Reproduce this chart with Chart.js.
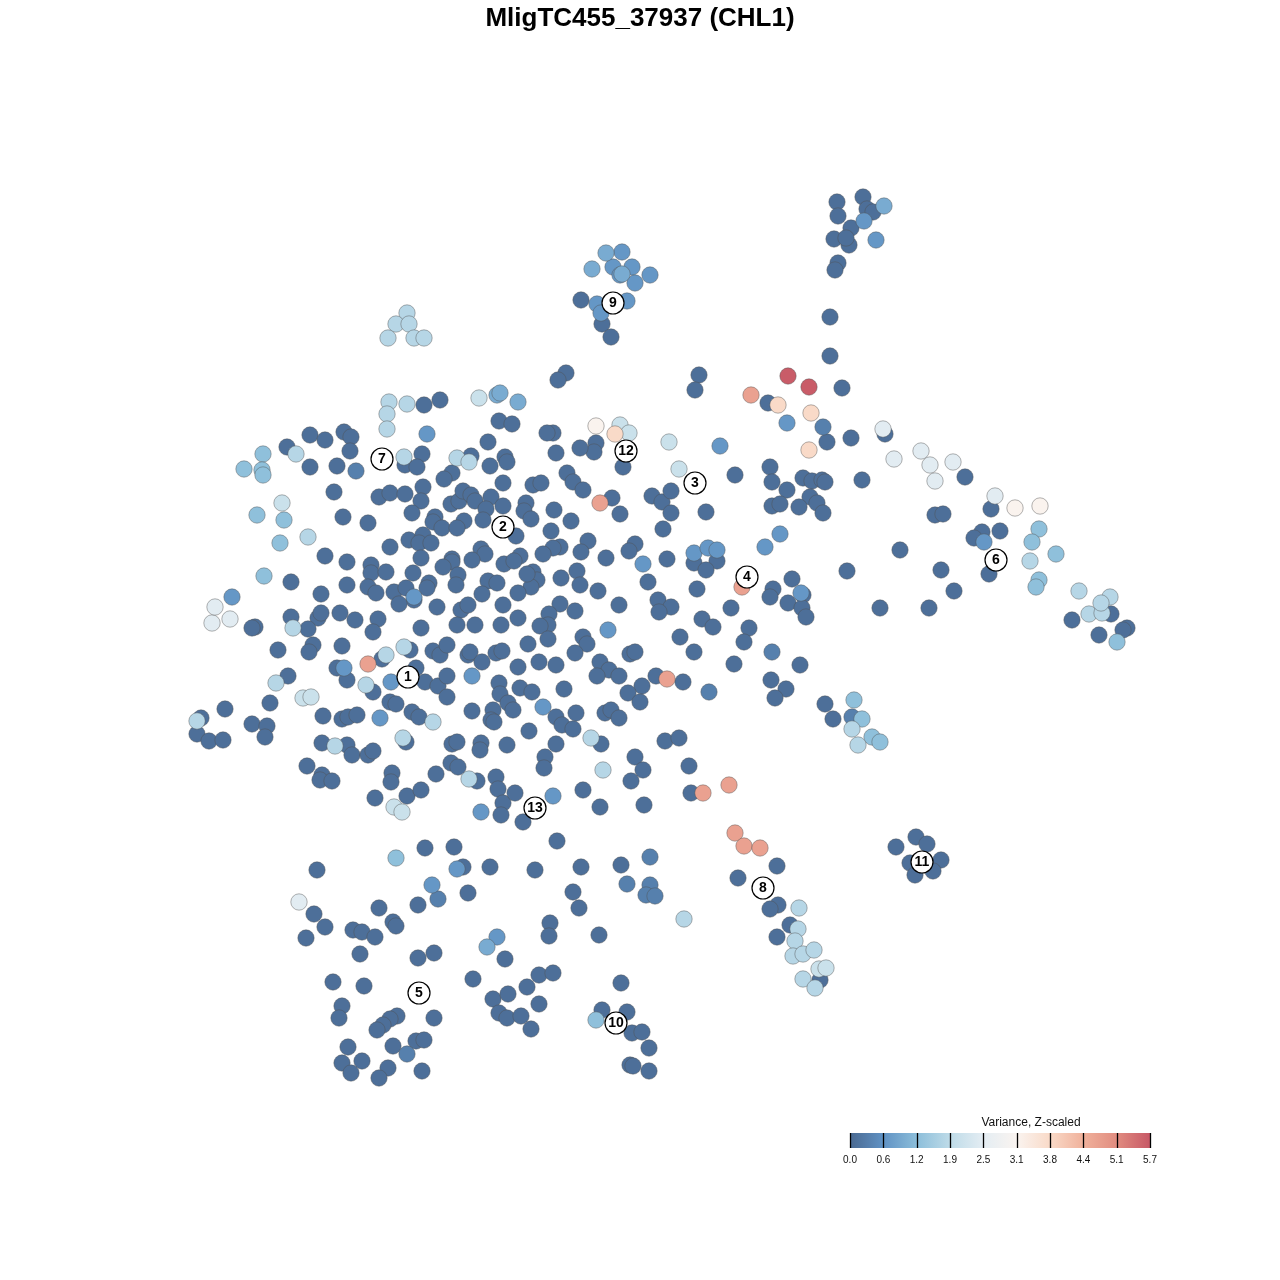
<!DOCTYPE html>
<html><head><meta charset="utf-8">
<script src="https://cdn.jsdelivr.net/npm/chart.js@4"></script>
<style>html,body{margin:0;padding:0;background:#fff}canvas{display:block}</style>
</head><body>
<canvas id="c" width="1280" height="1280"></canvas>
<script>
// tSNE embedding coordinates (tSNE_1, tSNE_2) grouped by Z-scaled variance level
const levelValues = [0.1, 0.35, 0.7, 1.0, 1.3, 1.8, 2.1, 2.5, 3.2, 3.8, 4.7, 5.65];
const cellsLevel0 = [
[837,202],[863,197],[838,216],[867,209],[873,212],[851,228],[834,239],[849,245],[846,238],[838,263],[835,270],[830,317],[830,356],[842,388],[699,375],[695,390],
[581,300],[602,324],[611,337],[566,373],[558,380],[424,405],[440,400],
[499,421],[310,435],[325,440],[344,432],[351,437],[287,447],[350,451],[488,442],[422,454],[405,465],[417,467],[471,456],[490,466],[505,457],[310,467],[337,466],[452,473],[444,479],[503,483],[334,492],[379,497],[390,493],[405,494],[423,487],[421,501],[451,504],[459,501],[463,491],[471,495],[475,501],[491,497],[486,509],[503,506],[343,517],[368,523],[412,513],[435,517],[433,522],[442,528],[464,521],[457,528],[483,520],[390,547],[409,540],[423,535],[419,543],[431,543],[481,549],[485,554],[472,560],[452,559],[452,562],[443,567],[504,564],[325,556],[347,562],[371,565],[371,573],[386,572],[421,558],[413,573],[458,575],[456,585],[488,581],[497,583],[291,582],[347,585],[368,587],[376,593],[394,592],[406,588],[429,583],[427,588],[414,600],[399,604],[321,594],[482,594],[503,605],[461,610],[468,605],[437,607],[291,617],[318,618],[321,613],[340,613],[355,620],[378,619],[255,627],[252,628],[308,629],[421,628],[457,625],[475,625],[501,625],
[768,403],[827,442],[512,424],[553,433],[547,433],[596,443],[594,452],[580,448],[556,453],[623,467],[507,462],[567,473],[573,482],[583,490],[735,475],[770,467],[772,482],[787,490],[803,478],[812,481],[822,480],[825,482],[810,497],[817,503],[823,513],[772,506],[780,504],[799,507],[533,485],[541,483],[612,498],[620,514],[652,496],[662,502],[671,491],[671,513],[706,512],[663,529],[526,503],[524,511],[531,519],[554,510],[571,521],[516,536],[551,531],[588,541],[581,552],[560,547],[553,548],[543,554],[520,556],[514,561],[606,558],[635,544],[629,551],[667,559],[694,563],[717,561],[706,570],[792,579],[773,589],[770,597],[803,595],[788,603],[802,608],[806,617],[577,571],[580,585],[561,578],[533,572],[537,580],[531,587],[527,574],[518,593],[598,591],[648,582],[697,589],[658,600],[671,607],[659,612],[619,605],[560,604],[575,611],[549,614],[548,625],[518,618],[540,626],[731,608],[702,619],[713,627],[749,628],
[373,632],[278,650],[313,645],[309,652],[342,646],[410,650],[382,659],[337,668],[347,680],[373,692],[416,668],[425,682],[438,686],[447,676],[433,651],[440,655],[447,645],[468,655],[470,652],[482,662],[496,653],[502,651],[499,683],[500,694],[447,697],[390,702],[396,704],[288,676],[270,703],[225,709],[201,718],[197,734],[209,741],[223,740],[252,724],[267,726],[265,737],[323,716],[342,719],[348,717],[357,715],[412,712],[419,717],[472,711],[493,710],[491,720],[494,722],[508,703],[406,742],[452,744],[457,742],[481,743],[480,750],[507,745],[322,743],[347,745],[352,755],[368,755],[373,751],[307,766],[322,775],[320,780],[332,781],[392,773],[391,782],[436,774],[451,763],[458,767],[477,781],[496,777],[498,789],[503,803],[501,815],[375,798],[407,796],[421,790],[425,848],[454,847],[463,867],[490,867],[317,870],
[583,637],[587,644],[680,637],[744,642],[528,644],[548,639],[575,653],[630,654],[635,652],[694,652],[800,665],[734,664],[518,667],[539,662],[556,665],[600,662],[609,670],[597,676],[619,676],[656,676],[683,682],[771,680],[786,689],[775,698],[642,686],[628,693],[640,702],[520,688],[532,692],[564,689],[513,710],[556,717],[562,725],[576,713],[573,729],[605,713],[611,710],[619,718],[529,731],[601,744],[556,744],[545,757],[544,768],[665,741],[679,738],[635,757],[643,770],[631,781],[689,766],[515,793],[583,790],[600,807],[644,805],[691,793],[523,822],[557,841],[777,866],[535,870],[581,867],[621,865],
[851,438],[885,434],[965,477],[862,480],[991,509],[935,515],[943,514],[982,532],[974,538],[1000,531],[989,574],[900,550],[941,570],[847,571],[954,591],[1111,614],[1072,620],[1127,628],[1123,630],[880,608],[929,608],[1099,635],
[825,704],[833,719],[896,847],[916,837],[927,844],[941,860],[910,863],[915,875],[933,871],
[314,914],[325,927],[306,938],[379,908],[353,930],[362,932],[375,937],[393,922],[396,926],[418,905],[468,893],[360,954],[418,958],[434,953],[505,959],[473,979],[333,982],[364,986],[342,1006],[339,1018],[493,999],[508,994],[499,1013],[507,1018],[397,1016],[390,1019],[383,1025],[377,1030],[434,1018],[348,1047],[393,1046],[416,1041],[424,1040],[342,1063],[362,1061],[351,1073],[388,1068],[379,1078],[422,1071],
[573,892],[579,908],[550,923],[549,936],[599,935],[539,975],[553,973],[527,987],[539,1004],[521,1016],[531,1029],[621,983],[602,1010],[627,1012],[632,1033],[642,1032],[649,1048],[630,1065],[633,1066],[649,1071],[738,878],[778,905],[770,909],[790,925],[777,937],[820,980]
];
const cellsLevel1 = [[356,471],[823,427],[852,717],[438,899],[407,1054],[772,652],[709,692],[650,857],[627,884],[650,885],[646,895],[655,896]];
const cellsLevel2 = [[622,252],[613,267],[632,267],[620,275],[650,275],[635,283],[597,304],[627,301],[601,313],[864,221],[876,240],[427,434],[787,423],[720,446],[414,597],[232,597],[391,682],[472,676],[380,718],[344,668],[481,812],[643,564],[694,553],[708,548],[717,550],[765,547],[780,534],[801,593],[608,630],[543,707],[553,796],[457,869],[432,885],[497,937],[984,542]];
const cellsLevel3 = [[606,253],[592,269],[622,274],[884,206],[497,395],[500,393],[518,402],[487,947]];
const cellsLevel4 = [[263,454],[244,469],[262,470],[263,475],[257,515],[284,520],[280,543],[264,576],[1039,529],[1032,542],[1056,554],[1039,580],[1036,587],[1117,642],[854,700],[862,719],[872,737],[880,742],[396,858],[596,1020]];
const cellsLevel5 = [[407,313],[396,324],[409,324],[388,338],[414,338],[424,338],[389,402],[407,404],[387,414],[387,429],[296,454],[404,457],[457,458],[469,462],[308,537],[293,628],[404,647],[386,655],[366,685],[276,683],[197,721],[433,722],[403,738],[335,746],[469,779],[591,738],[603,770],[1030,561],[1079,591],[1110,597],[1089,614],[1102,613],[1101,603],[852,729],[858,745],[684,919],[799,908],[798,929],[795,941],[793,956],[803,954],[814,950],[803,979],[815,988]];
const cellsLevel6 = [[479,398],[620,425],[629,433],[669,442],[679,469],[282,503],[303,698],[311,697],[394,807],[402,812],[819,969],[826,968]];
const cellsLevel7 = [[212,623],[230,619],[215,607],[883,429],[894,459],[921,451],[930,465],[953,462],[935,481],[995,496],[299,902]];
const cellsLevel8 = [[596,426],[1015,508],[1040,506]];
const cellsLevel9 = [[778,405],[811,413],[809,450],[615,434]];
const cellsLevel10 = [[751,395],[600,503],[742,587],[368,664],[667,679],[703,793],[729,785],[735,833],[744,846],[760,848]];
const cellsLevel11 = [[788,376],[809,387]];
const levelCells = [cellsLevel0,cellsLevel1,cellsLevel2,cellsLevel3,cellsLevel4,cellsLevel5,cellsLevel6,cellsLevel7,cellsLevel8,cellsLevel9,cellsLevel10,cellsLevel11];

const clusterIds = ['1','2','3','4','5','6','7','8','9','10','11','12','13'];
const clusterX = [408,503,695,747,419,996,382,763,613,616,922,626,535];
const clusterY = [677,527,483,577,993,560,459,888,303,1023,862,451,808];

const colorbarMax = 5.7;
const colorbarTicks = ['0.0','0.6','1.2','1.9','2.5','3.1','3.8','4.4','5.1','5.7'];
const titleText = 'MligTC455_37937 (CHL1)';
const legendTitle = 'Variance, Z-scaled';

const stops = [[74,105,145],[96,146,196],[140,190,218],[190,219,232],[228,237,243],[250,244,240],[249,218,200],[240,177,155],[225,140,128],[199,88,102]];
function colorFor(v){
  const t = Math.max(0, Math.min(1, v/colorbarMax))*(stops.length-1);
  const i = Math.min(stops.length-2, Math.floor(t)); const f = t-i;
  const a = stops[i], b = stops[i+1];
  return 'rgb('+a.map((c,k)=>Math.round(c+(b[k]-c)*f)).join(',')+')';
}

const points = [];
levelCells.forEach((arr,li)=>arr.forEach(p=>points.push({x:p[0],y:p[1],v:levelValues[li]})));
const labelPts = clusterX.map((x,i)=>({x:x,y:clusterY[i],id:clusterIds[i]}));

const overlay = {
  id:'overlay',
  afterDatasetsDraw(chart){
    const ctx = chart.ctx, sx = chart.scales.x, sy = chart.scales.y;
    ctx.save();
    ctx.fillStyle='#000'; ctx.textAlign='center'; ctx.textBaseline='middle';
    ctx.font='bold 14px "Liberation Sans", Arial, sans-serif';
    labelPts.forEach(p=>ctx.fillText(p.id, sx.getPixelForValue(p.x), sy.getPixelForValue(p.y)+0.5));
    // title
    ctx.font='bold 26px "Liberation Sans", Arial, sans-serif';
    ctx.fillText(titleText, 640, 19);
    // colorbar
    const x0=850, x1=1150, y0=1133, h=15;
    const g = ctx.createLinearGradient(x0,0,x1,0);
    stops.forEach((s,i)=>g.addColorStop(i/(stops.length-1),'rgb('+s.join(',')+')'));
    ctx.fillStyle=g; ctx.fillRect(x0,y0,x1-x0,h);
    ctx.strokeStyle='#000'; ctx.lineWidth=1.3;
    colorbarTicks.forEach((t,i)=>{
      const x = Math.round(x0+(x1-x0)*i/(colorbarTicks.length-1))+0.5;
      ctx.beginPath(); ctx.moveTo(x,y0); ctx.lineTo(x,y0+h); ctx.stroke();
    });
    ctx.fillStyle='#111'; ctx.font='10px "Liberation Sans", Arial, sans-serif';
    colorbarTicks.forEach((t,i)=>{
      const x = x0+(x1-x0)*i/(colorbarTicks.length-1);
      ctx.fillText(t, x, 1160);
    });
    ctx.font='12px "Liberation Sans", Arial, sans-serif';
    ctx.fillText(legendTitle, 1031, 1123);
    ctx.restore();
  }
};

new Chart(document.getElementById('c'), {
  type:'scatter',
  data:{datasets:[
    {label:'clusters', data:labelPts, order:0, pointRadius:11, pointBackgroundColor:'#ffffff', pointBorderColor:'#000000', pointBorderWidth:1.2},
    {label:'cells', data:points, order:1, pointRadius:8.2,
     pointBackgroundColor:ctx=>colorFor(ctx.raw ? ctx.raw.v : 0),
     pointBorderColor:'rgba(80,80,80,0.55)', pointBorderWidth:0.8}
  ]},
  options:{
    responsive:false, animation:false, devicePixelRatio:1,
    layout:{padding:0, autoPadding:false},
    plugins:{legend:{display:false}, tooltip:{enabled:false}, title:{display:false}},
    events:[],
    scales:{
      x:{type:'linear', min:0, max:1280, display:false},
      y:{type:'linear', min:0, max:1280, reverse:true, display:false}
    }
  },
  plugins:[overlay]
});
</script>
</body></html>
